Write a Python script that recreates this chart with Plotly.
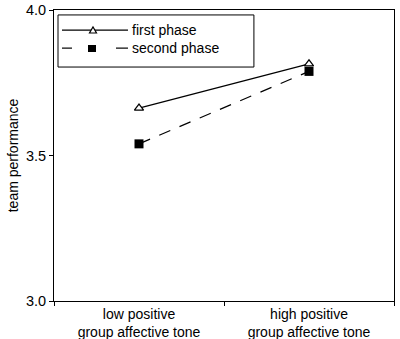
import plotly.graph_objects as go

categories = ["low positive<br>group affective tone", "high positive<br>group affective tone"]
first_phase = [3.663, 3.815]
second_phase = [3.54, 3.789]
series_names = ["first phase", "second phase"]
y_ticks = [3.0, 3.5, 4.0]
y_tick_labels = ["3.0", "3.5", "4.0"]

FONT = "Liberation Sans, Arial, sans-serif"

fig = go.Figure()
fig.add_trace(go.Scatter(
    x=categories, y=first_phase, mode="lines+markers", name=series_names[0],
    line=dict(color="black", width=1.2),
    marker=dict(symbol="triangle-up", size=8, color="white", line=dict(color="black", width=1.2)),
    showlegend=False,
))
fig.add_trace(go.Scatter(
    x=categories, y=second_phase, mode="lines+markers", name=series_names[1],
    line=dict(color="black", width=1.2, dash="12px,10px"),
    marker=dict(symbol="square", size=9, color="black", line=dict(color="black", width=0)),
    showlegend=False,
))

# manual legend (box, sample lines, glyphs, labels) in paper coordinates
shapes = [
    dict(type="rect", xref="paper", yref="paper", x0=0.0118, x1=0.588, y0=0.804, y1=0.983,
         line=dict(color="black", width=1), fillcolor="white", layer="below"),
    dict(type="line", xref="paper", yref="paper", x0=0.0235, x1=0.2176, y0=0.931, y1=0.931,
         line=dict(color="black", width=1.2)),
    dict(type="path", xref="paper", yref="paper",
         path="M 0.1044 0.921 L 0.125 0.921 L 0.1147 0.9416 Z",
         line=dict(color="black", width=1.2), fillcolor="white"),
    dict(type="line", xref="paper", yref="paper", x0=0.0235, x1=0.0529, y0=0.869, y1=0.869,
         line=dict(color="black", width=1.2)),
    dict(type="line", xref="paper", yref="paper", x0=0.1823, x1=0.2176, y0=0.869, y1=0.869,
         line=dict(color="black", width=1.2)),
    dict(type="rect", xref="paper", yref="paper", x0=0.1, x1=0.1235, y0=0.8557, y1=0.8797,
         line=dict(color="black", width=0), fillcolor="black"),
]
annotations = [
    dict(xref="paper", yref="paper", x=0.2324, y=0.931, text=series_names[0], showarrow=False,
         xanchor="left", yanchor="middle", xshift=-3, font=dict(family=FONT, size=14, color="black")),
    dict(xref="paper", yref="paper", x=0.2324, y=0.869, text=series_names[1], showarrow=False,
         xanchor="left", yanchor="middle", xshift=-3, font=dict(family=FONT, size=14, color="black")),
]

fig.update_layout(
    width=400, height=339,
    margin=dict(l=54, r=6, t=10, b=38),
    paper_bgcolor="white", plot_bgcolor="white",
    font=dict(family=FONT, size=14, color="black"),
    shapes=shapes, annotations=annotations,
    showlegend=False,
)
fig.update_xaxes(
    type="category", range=[-0.5, 1.5], tickson="boundaries",
    ticks="outside", ticklen=4, tickcolor="black",
    showline=True, linecolor="black", linewidth=1, mirror=True,
    showgrid=False, zeroline=False, automargin=False,
    tickfont=dict(family=FONT, size=14, color="black"),
)
fig.update_yaxes(
    range=[3.0, 4.0], tickvals=y_ticks, ticktext=y_tick_labels,
    ticks="outside", ticklen=4, tickcolor="black",
    showline=True, linecolor="black", linewidth=1, mirror=True,
    showgrid=False, zeroline=False, automargin=False,
    tickfont=dict(family=FONT, size=14.5, color="black"),
    title=dict(text="team performance", font=dict(family=FONT, size=14, color="black"), standoff=4),
)

fig.write_html("out.html", config={"displayModeBar": False},
               post_script="document.body.style.margin='0';")
